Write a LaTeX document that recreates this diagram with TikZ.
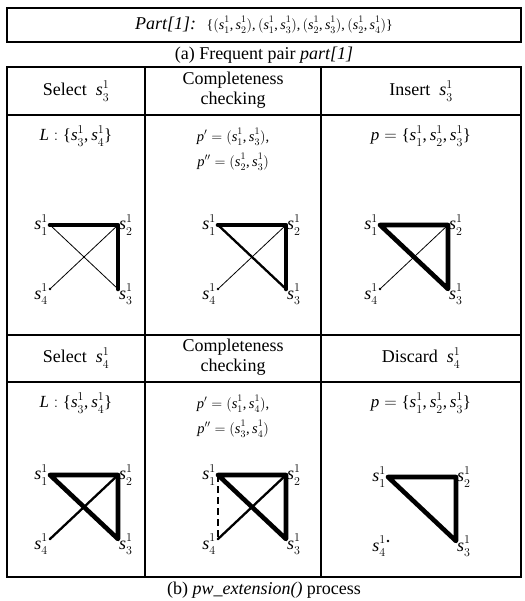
\documentclass[tikz,border=0pt]{standalone}
\usepackage{fontspec}
\setmainfont{Liberation Serif}
% math letters and digits in the text face
\DeclareSymbolFont{tletters}{TU}{\rmdefault}{m}{it}
\DeclareSymbolFont{tupright}{TU}{\rmdefault}{m}{n}
\DeclareMathSymbol{s}{\mathalpha}{tletters}{`s}
\DeclareMathSymbol{p}{\mathalpha}{tletters}{`p}
\DeclareMathSymbol{L}{\mathalpha}{tletters}{`L}
\DeclareMathSymbol{1}{\mathalpha}{tupright}{`1}
\DeclareMathSymbol{2}{\mathalpha}{tupright}{`2}
\DeclareMathSymbol{3}{\mathalpha}{tupright}{`3}
\DeclareMathSymbol{4}{\mathalpha}{tupright}{`4}
\DeclareMathSymbol{(}{\mathopen}{tupright}{`(}
\DeclareMathSymbol{)}{\mathclose}{tupright}{`)}
\DeclareMathSymbol{,}{\mathpunct}{tupright}{`,}
\DeclareMathSymbol{=}{\mathrel}{tupright}{`=}
\DeclareMathSymbol{:}{\mathrel}{tupright}{`:}
\DeclareMathSymbol{\setl}{\mathopen}{tupright}{"7B}
\DeclareMathSymbol{\setr}{\mathclose}{tupright}{"7D}
% s with sub- and superscript, a little further apart
\newcommand{\sv}[2]{s_{\lower1.2pt\hbox{$\scriptstyle#1$}}^{\raise1.2pt\hbox{$\scriptstyle#2$}}}
\usetikzlibrary{positioning}
\tikzset{
  tabline/.style={line width=1.8pt},
  thinedge/.style={line width=0.8pt},
  midedge/.style={line width=2.3pt, line cap=round},
  boldedge/.style={line width=4.6pt, line cap=round, line join=round},
  dashedge/.style={line width=2.4pt, dash pattern=on 7pt off 4pt},
  lbl/.style={font=\fontsize{18}{20}\selectfont, inner sep=0pt},
  head/.style={font=\fontsize{18}{20}\selectfont, align=center},
  cell/.style={font=\fontsize{17}{20}\selectfont, inner sep=1pt},
  cellsmall/.style={font=\fontsize{14.5}{16}\selectfont, inner sep=1pt},
}
% four vertices of one small graph: name, left x, top y
\newcommand{\pwvert}[3]{%
  \coordinate (#11) at (#2,#3);
  \coordinate (#12) at (#2+68,#3);
  \coordinate (#13) at (#2+68,#3+64);
  \coordinate (#14) at (#2,#3+64);
  \foreach \v in {1,2,3,4} {\fill (#1\v) circle (1.3pt);}
  \node[lbl, left=2pt of #11] (#1l1) {$\sv{1}{1}$};
  \node[lbl, right=1pt of #12] (#1l2) {$\sv{2}{1}$};
  \node[lbl, below right=-5pt and 1pt of #13] (#1l3) {$\sv{3}{1}$};
  \node[lbl, below left=-5pt and 2pt of #14] (#1l4) {$\sv{4}{1}$};
}

\begin{document}
\begin{tikzpicture}[x=1pt, y=-1pt]
\useasboundingbox (0,0) rectangle (524,601);

% top box and caption (a)
\draw[tabline] (7,8) rectangle (521,42);
\node[font=\fontsize{18}{20}\selectfont] (parts) at (264,25) {\textit{Part[1]:}~ {\fontsize{14}{15}\selectfont$\setl(\sv{1}{1},\sv{2}{1}),(\sv{1}{1},\sv{3}{1}),(\sv{2}{1},\sv{3}{1}),(\sv{2}{1},\sv{4}{1})\setr$}};
\node[head] (capa) at (264,55) {(a) Frequent pair \textit{part[1]}};

% table
\draw[tabline] (7,67) rectangle (521,577);
\draw[tabline] (7,115) -- (521,115);
\draw[tabline] (7,335) -- (521,335);
\draw[tabline] (7,382) -- (521,382);
\draw[tabline] (145,67) -- (145,577);
\draw[tabline] (321,67) -- (321,577);

% row 1
\node[head] (sel3) at (76,91) {Select~ $\sv{3}{1}$};
\node[head] (chk1) at (233,90) {Completeness\\checking};
\node[head] (ins3) at (421,91) {Insert~ $\sv{3}{1}$};
\node[cell] (lst1) at (76,136) {$L:\setl\sv{3}{1},\sv{4}{1}\setr$};
\node[cellsmall] (pa1) at (233,137) {$p^{\prime}=(\sv{1}{1},\sv{3}{1}),$};
\node[cellsmall] (pb1) at (233,162) {$p^{\prime\prime}=(\sv{2}{1},\sv{3}{1})$};
\node[cell] (set1) at (421,136) {$p=\setl\sv{1}{1},\sv{2}{1},\sv{3}{1}\setr$};

\pwvert{ga}{50}{225}
\draw[boldedge] (ga1) -- (ga2) -- (ga3);
\draw[thinedge] (ga1) -- (ga3);
\draw[thinedge] (ga2) -- (ga4);

\pwvert{gb}{218}{225}
\draw[boldedge] (gb1) -- (gb2) -- (gb3);
\draw[midedge] (gb1) -- (gb3);
\draw[thinedge] (gb2) -- (gb4);

\pwvert{gc}{380}{225}
\draw[boldedge] (gc1) -- (gc2) -- (gc3) -- (gc1);
\draw[thinedge] (gc2) -- (gc4);

% row 2
\node[head] (sel4) at (76,358) {Select~ $\sv{4}{1}$};
\node[head] (chk2) at (233,357) {Completeness\\checking};
\node[head] (dis4) at (421,358) {Discard~ $\sv{4}{1}$};
\node[cell] (lst2) at (76,403) {$L:\setl\sv{3}{1},\sv{4}{1}\setr$};
\node[cellsmall] (pa2) at (233,404) {$p^{\prime}=(\sv{1}{1},\sv{4}{1}),$};
\node[cellsmall] (pb2) at (233,429) {$p^{\prime\prime}=(\sv{3}{1},\sv{4}{1})$};
\node[cell] (set2) at (421,403) {$p=\setl\sv{1}{1},\sv{2}{1},\sv{3}{1}\setr$};

\pwvert{gd}{50}{475}
\draw[boldedge] (gd1) -- (gd2) -- (gd3) -- (gd1);
\draw[midedge] (gd2) -- (gd4);

\pwvert{ge}{218}{475}
\draw[boldedge] (ge1) -- (ge2) -- (ge3) -- (ge1);
\draw[midedge] (ge2) -- (ge4);
\draw[dashedge] (ge1) -- (ge4);

\pwvert{gf}{388}{477}
\draw[boldedge] (gf1) -- (gf2) -- (gf3) -- (gf1);

\node[head] (capb) at (264,590) {(b) \textit{pw\_extension()} process};
\end{tikzpicture}
\end{document}
